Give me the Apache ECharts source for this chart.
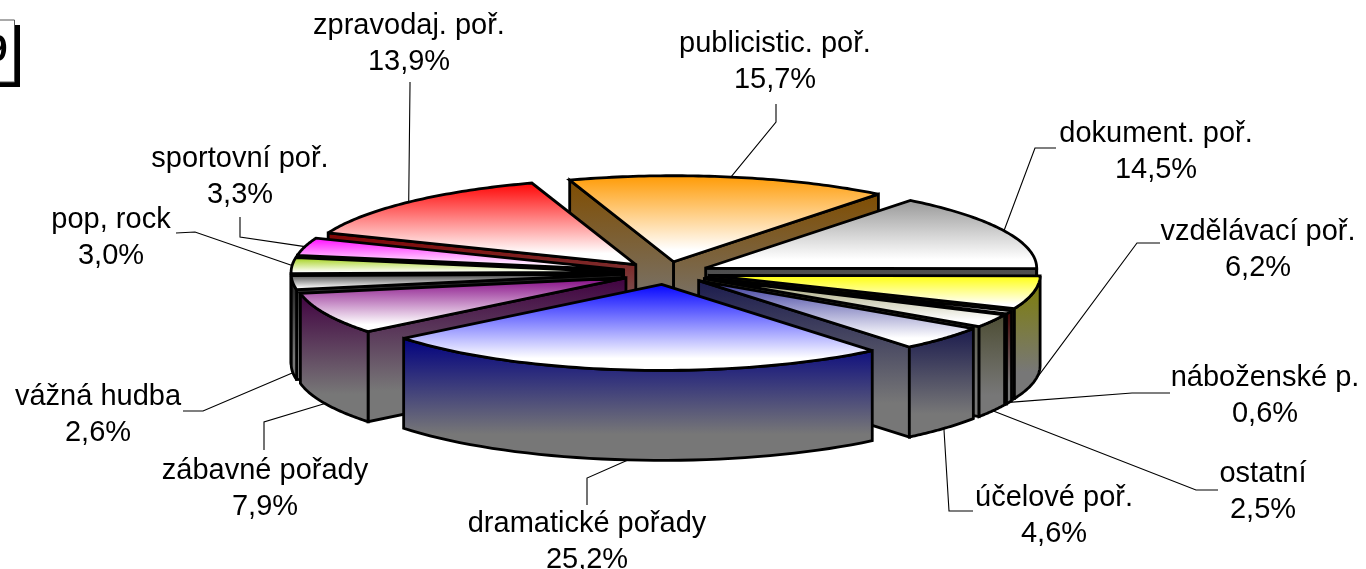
<!DOCTYPE html>
<html><head><meta charset="utf-8">
<style>html,body{margin:0;padding:0;background:#fff}#c{width:1366px;height:569px}</style>
<script src="https://cdn.jsdelivr.net/npm/echarts@6/dist/echarts.min.js"></script>
</head><body><div id="c"></div>
<script>
// Data, clockwise from the first slice
const categories = ['publicistic. poř.','dokument. poř.','vzdělávací poř.','náboženské p.','ostatní','účelové poř.','dramatické pořady','zábavné pořady','vážná hudba','pop, rock','sportovní poř.','zpravodaj. poř.'];
const shares = [15.7,14.5,6.2,0.6,2.5,4.6,25.2,7.9,2.6,3.0,3.3,13.9];
const palette = ['#FF9900','#969696','#FFFF00','#800000','#999966','#333399','#0000FF','#800080','#333333','#99CC00','#FF00FF','#FF0000'];
// Label block centres and leader elbows (px)
const labelCentres = [[775,62],[1156,152],[1258,250],[1265,396],[1263,492],[1054,516],[587,542],[265,489],[98,415],[111,238],[240,177],[409,44]];
const leaderElbows = [[776,122],[1035,148],[1137,243],[1132,393],[1196,490],[949,511],[587,478],[264,422],[203,411],[195,232],[240,237],[410,85]];
const leaderStarts = [[776,104],[1056,148],[1160,243],[1170,393],[1218,490],[973,511],[587,505],[264,450],[183,411],[176,233],[240,217],[410,82]];

const CX=666, CY=273, RX=331, RY=86, DEPTH=90, EXPLODE=0.133, START=-18.3;
const total = shares.reduce((a,b)=>a+b,0);
const rad = d=>d*Math.PI/180;
const hexMix=(hex,f)=>{const n=parseInt(hex.slice(1),16);return 'rgb('+[(n>>16)&255,(n>>8)&255,n&255].map(v=>Math.round(v*f)).join(',')+')';};
let acc=START;
const rows = shares.map((v,i)=>{const a0=acc;acc+=v/total*360;return [v,a0,acc,i];});

function pt(ap,d){return [ap[0]+RX*Math.sin(rad(d)),ap[1]-RY*Math.cos(rad(d))];}
function down(p){return [p[0],p[1]+DEPTH];}
const topGrad=c=>new echarts.graphic.LinearGradient(0,0,0,1,[{offset:0,color:c},{offset:0.85,color:'#ffffff'},{offset:1,color:'#ffffff'}]);
const wallGrad=c=>new echarts.graphic.LinearGradient(0,0,0,1,[{offset:0,color:hexMix(c,0.5)},{offset:0.78,color:'#777777'},{offset:1,color:'#777777'}]);

function renderItem(params,api){
  const a0=api.value(1), a1=api.value(2), i=api.value(3), c=palette[i];
  const mid=(a0+a1)/2, m=rad(mid);
  const apex=[CX+EXPLODE*RX*Math.sin(m),CY-EXPLODE*RY*Math.cos(m)];
  const order=Math.round((1-Math.cos(m))*100)*10+10;
  const st={stroke:'#000',lineWidth:2.8,lineJoin:'miter',miterLimit:3};
  const kids=[];
  const addPoly=(pts,fill,z)=>kids.push({type:'polygon',z2:order+z,shape:{points:pts},style:Object.assign({fill},st)});
  const s0=Math.sin(rad(a0)), s1=Math.sin(rad(a1));
  if(s0<0){const p=pt(apex,a0);addPoly([apex,p,down(p),down(apex)],wallGrad(c),1);}
  if(s1>0){const p=pt(apex,a1);addPoly([apex,p,down(p),down(apex)],wallGrad(c),1);}
  const norm=d=>((d%360)+360)%360;
  let from=norm(a0), to=from+(a1-a0);
  const lo=Math.max(from,90), hi=Math.min(to,270);
  if(hi>lo){
    const rimT=[],rimB=[];
    for(let k=0;k<=40;k++){const p=pt(apex,lo+(hi-lo)*k/40);rimT.push(p);rimB.unshift(down(p));}
    addPoly(rimT.concat(rimB),wallGrad(c),2);
  }
  const topPts=[apex];
  for(let k=0;k<=60;k++)topPts.push(pt(apex,a0+(a1-a0)*k/60));
  addPoly(topPts,topGrad(c),3);
  let end=pt(apex,mid); if(Math.cos(m)<0) end=down(end);
  const line=[leaderStarts[i],leaderElbows[i],end];
  kids.push({type:'polyline',z2:1,shape:{points:line},style:{stroke:'#000',lineWidth:1.1,fill:null}});
  kids.push({type:'text',z2:3000,x:labelCentres[i][0],y:labelCentres[i][1],
    style:{text:categories[i]+'\n'+api.value(0).toFixed(1).replace('.',',')+'%',align:'center',verticalAlign:'middle',
      font:'29px "Liberation Sans"',lineHeight:36,fill:'#000'}});
  return {type:'group',children:kids};
}
const chart=echarts.init(document.getElementById('c'),null,{renderer:'canvas'});
chart.setOption({animation:false,backgroundColor:'#fff',
  graphic:[
    {type:'rect',z:1,shape:{x:-20,y:25,width:40,height:62},style:{fill:'#000'}},
    {type:'rect',z:2,shape:{x:-20,y:20,width:34.5,height:62},style:{fill:'#fff',stroke:'#555',lineWidth:1}},
    {type:'text',z:3,x:-2.5,y:51,style:{text:'9',font:'bold 36px "Liberation Sans"',align:'center',verticalAlign:'middle',fill:'#000'}}
  ],
  series:[{type:'custom',coordinateSystem:'none',silent:true,clip:false,renderItem,data:rows,encode:{}}]
});
</script></body></html>
